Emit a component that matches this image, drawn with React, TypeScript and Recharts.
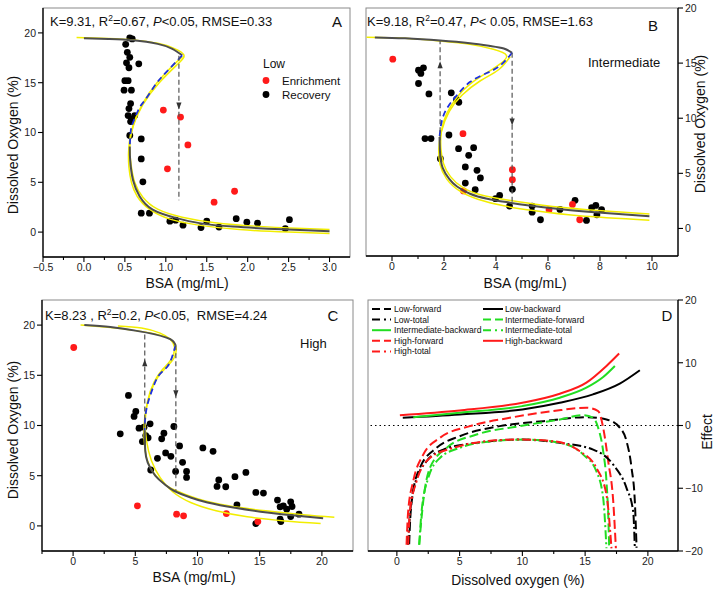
import React from "react";
import { ComposedChart, Line, Scatter, XAxis, YAxis, ReferenceLine } from "recharts";

const FONT = "Arial, 'Liberation Sans', Helvetica, sans-serif";
const W = 720;
const H = 589;

type P = [number, number];
const pts = (a: P[]) => a.map(([x, y]) => ({ x, y }));

// ---------- A: low BSA ----------
const lowRecovery: P[] = [
  [0.56, 19.5], [0.59, 19.4], [0.51, 18.85], [0.53, 18.05], [0.56, 17.55], [0.52, 17.0],
  [0.67, 16.9], [0.55, 16.5], [0.5, 15.2], [0.54, 15.2], [0.49, 14.25], [0.58, 14.25],
  [0.57, 12.9], [0.55, 12.4], [0.54, 11.7], [0.62, 11.7], [0.58, 11.35], [0.57, 11.1],
  [0.56, 9.7], [0.7, 9.35], [0.7, 7.35], [0.72, 5.05], [0.7, 1.9], [0.8, 1.9],
  [1.05, 1.1], [1.12, 1.2], [1.21, 0.7], [1.43, 0.45], [1.5, 1.1], [1.65, 0.5],
  [1.86, 1.35], [1.99, 1.0], [2.12, 0.9], [2.46, 0.35], [2.51, 1.25],
];
const lowEnrichment: P[] = [
  [0.97, 12.25], [1.18, 11.55], [1.27, 8.75], [1.02, 6.35], [1.59, 3.0], [1.84, 4.1],
];
const lowFitUpper: P[] = [
  [0.0, 19.47], [0.3, 19.38], [0.6, 19.25], [0.9, 18.9], [1.08, 18.4], [1.2, 17.75],
];
const lowFitMiddle: P[] = [
  [1.2, 17.75], [1.0, 16.0], [0.88, 14.87], [0.75, 13.3], [0.68, 12.5], [0.6, 11.0],
  [0.57, 10.0], [0.56, 8.6],
];
const lowFitLower: P[] = [
  [0.56, 8.6], [0.565, 7.2], [0.6, 5.2], [0.68, 3.6], [0.84, 2.25], [1.13, 1.4],
  [1.41, 0.9], [1.82, 0.55], [2.42, 0.28], [3.0, 0.08],
];
const lowBandOuter: P[] = [
  [-0.09, 19.55], [0.3, 19.45], [0.6, 19.3], [0.9, 18.95], [1.1, 18.45], [1.22, 17.8],
  [1.15, 16.9], [0.92, 15.0], [0.72, 12.8], [0.6, 10.6], [0.56, 8.6], [0.575, 6.8],
  [0.62, 5.0], [0.72, 3.5], [0.9, 2.3], [1.2, 1.5], [1.6, 0.95], [2.1, 0.6], [2.6, 0.38],
  [3.0, 0.25],
];
const lowBandInner: P[] = [
  [1.2, 17.6], [1.0, 16.0], [0.8, 14.0], [0.65, 11.8], [0.57, 9.8], [0.545, 8.0],
  [0.55, 6.5], [0.58, 5.0], [0.65, 3.6], [0.8, 2.3], [1.05, 1.3], [1.4, 0.7], [1.9, 0.25],
  [2.5, 0.0], [3.0, -0.15],
];
const lowJumpDown: P[] = [[1.16, 17.7], [1.16, 3.2]];
const lowArrows = [{ x: 1.16, y: 12.7, dir: "down" }];

// ---------- B: intermediate BSA ----------
const intRecovery: P[] = [
  [1.02, 14.36], [1.21, 14.57], [1.11, 14.06], [1.02, 13.15], [1.42, 12.2], [2.28, 12.3],
  [2.48, 11.7], [2.57, 11.45], [1.27, 8.15], [1.5, 8.15], [2.19, 8.48], [2.56, 7.24],
  [3.14, 7.33], [2.95, 6.63], [1.86, 6.33], [2.82, 5.58], [3.27, 5.27], [3.4, 4.58],
  [2.82, 4.12], [3.2, 3.52], [3.98, 2.7], [4.14, 3.0], [4.63, 3.55], [4.52, 2.03],
  [5.39, 2.03], [5.39, 1.48], [5.71, 0.79], [6.46, 1.73], [7.04, 2.55], [7.48, 0.73],
  [7.68, 1.88], [7.84, 2.09], [7.88, 1.24], [8.06, 1.7],
];
const intEnrichment: P[] = [
  [0.03, 15.36], [2.73, 8.6], [2.75, 3.4], [4.63, 5.33], [4.63, 4.42], [6.04, 1.7],
  [6.94, 2.18], [7.22, 0.79],
];
const intFitUpper: P[] = [
  [-0.66, 17.33], [0.5, 17.25], [1.85, 17.05], [3.0, 16.8], [3.8, 16.55], [4.3, 16.33],
  [4.62, 15.94],
];
const intFitMiddle: P[] = [
  [4.62, 15.94], [4.17, 14.8], [3.65, 14.1], [3.01, 13.3], [2.5, 12.1], [2.14, 11.0],
  [1.92, 9.8], [1.83, 8.3],
];
const intFitLower: P[] = [
  [1.83, 8.3], [1.85, 6.8], [1.95, 5.5], [2.2, 4.5], [2.5, 3.8], [3.0, 3.15], [3.66, 2.7],
  [4.5, 2.35], [5.2, 2.1], [6.5, 1.75], [7.8, 1.48], [9.9, 1.1],
];
const intBandOuter: P[] = [
  [-0.98, 17.35], [0.5, 17.25], [1.85, 17.0], [3.0, 16.7], [3.9, 16.25], [4.4, 15.7],
  [4.2, 15.0], [3.7, 14.2], [3.0, 13.1], [2.5, 11.9], [2.1, 10.4], [1.9, 8.8], [1.88, 7.3],
  [1.98, 5.9], [2.25, 4.7], [2.7, 3.75], [3.4, 3.05], [4.5, 2.55], [5.8, 2.1], [7.5, 1.7],
  [9.9, 1.3],
];
const intBandInner: P[] = [
  [4.55, 15.6], [4.1, 14.4], [3.4, 13.4], [2.7, 12.1], [2.2, 10.6], [1.9, 8.8], [1.8, 7.2],
  [1.85, 5.8], [2.1, 4.5], [2.6, 3.4], [3.3, 2.65], [4.3, 2.05], [5.5, 1.6], [7.2, 1.15],
  [9.9, 0.75],
];
const intJumpUp: P[] = [[1.85, 8.0], [1.85, 17.05]];
const intJumpDown: P[] = [[4.62, 15.94], [4.62, 2.2]];
const intArrows = [
  { x: 1.85, y: 14.8, dir: "up" },
  { x: 4.62, y: 9.7, dir: "down" },
];

// ---------- C: high BSA ----------
const highRecovery: P[] = [
  [4.45, 13.0], [5.04, 11.4], [4.9, 10.9], [5.3, 9.73], [5.7, 9.83], [6.19, 10.17],
  [3.79, 9.17], [5.84, 9.0], [5.57, 8.4], [6.03, 8.77], [7.3, 9.23], [7.12, 8.67],
  [8.1, 9.9], [8.56, 7.97], [7.44, 7.27], [7.86, 6.93], [6.78, 6.73], [8.8, 6.33],
  [6.24, 5.57], [8.24, 5.43], [9.12, 5.43], [9.12, 4.83], [10.43, 7.77], [11.25, 7.43],
  [11.71, 4.57], [11.57, 3.93], [12.27, 3.9], [13.01, 4.9], [13.89, 5.33], [13.17, 2.1],
  [14.69, 3.33], [15.3, 3.27], [14.69, 0.23], [16.43, 2.57], [16.64, 1.9], [16.9, 2.0],
  [17.17, 1.67], [17.49, 2.4], [17.6, 1.93], [16.64, 0.67], [16.7, 0.43], [17.49, 0.93],
  [18.16, 1.17],
];
const highEnrichment: P[] = [
  [0.05, 17.77], [5.17, 2.0], [8.32, 1.17], [8.88, 1.0], [12.32, 1.23], [14.85, 0.43],
];
const highFitUpper: P[] = [
  [0.9, 20.0], [3.0, 19.8], [5.0, 19.45], [6.5, 19.1], [7.5, 18.75], [8.0, 18.45],
  [8.24, 18.0],
];
const highFitMiddle: P[] = [
  [8.24, 18.0], [8.0, 17.0], [7.6, 15.9], [6.9, 15.0], [6.4, 13.7], [6.0, 12.2],
  [5.8, 10.8], [5.75, 9.5],
];
const highFitLower: P[] = [
  [5.75, 9.5], [5.8, 7.5], [6.0, 6.3], [6.6, 5.0], [7.4, 4.1], [8.1, 3.5], [9.5, 2.8],
  [10.8, 2.33], [13.0, 1.8], [15.6, 1.33], [18.0, 1.0], [20.1, 0.77],
];
const highBandOuter: P[] = [
  [0.6, 20.0], [3.0, 19.75], [5.0, 19.45], [6.5, 19.15], [7.5, 18.8], [8.1, 18.3],
  [8.3, 17.6], [8.1, 16.7], [7.5, 15.8], [6.8, 14.8], [6.2, 13.2], [5.85, 11.5],
  [5.7, 9.8], [5.75, 8.0], [5.95, 6.6], [6.4, 5.4], [7.2, 4.3], [8.3, 3.5], [10.0, 2.7],
  [12.5, 2.0], [15.5, 1.5], [18.5, 1.1], [21.0, 0.85],
];
const highBandInner: P[] = [
  [3.6, 19.9], [5.5, 19.7], [7.0, 19.2], [7.8, 18.6], [8.15, 17.8], [7.9, 16.6],
  [7.2, 15.6], [6.5, 14.3], [6.0, 12.5], [5.8, 10.5], [5.9, 8.5], [6.3, 6.5], [7.0, 4.8],
  [8.0, 3.4], [9.5, 2.3], [11.5, 1.5], [14.0, 0.9], [17.0, 0.5], [19.9, 0.25],
];
const highJumpUp: P[] = [[5.76, 9.0], [5.76, 19.3]];
const highJumpDown: P[] = [[8.26, 18.0], [8.26, 3.5]];
const highArrows = [
  { x: 5.76, y: 16.2, dir: "up" },
  { x: 8.26, y: 13.2, dir: "down" },
];

// ---------- D: effects vs dissolved oxygen ----------
const lowForward: P[] = [
  [0.98, -18.9], [1.04, -15.84], [1.3, -10.5], [1.83, -6.77], [3.16, -3.57], [5.0, -1.71],
  [8.2, -0.1], [11.66, 0.69], [15.1, 1.33], [16.7, 0.96], [17.77, -0.37], [18.3, -2.5],
  [18.7, -6.77], [18.96, -12.1], [19.1, -19.5],
];
const lowTotal: P[] = [
  [0.9, -19.0], [1.04, -14.24], [1.43, -9.44], [2.37, -5.7], [3.7, -3.84], [6.35, -2.77],
  [9.8, -2.24], [13.0, -2.77], [15.64, -3.84], [17.24, -6.24], [18.3, -9.97],
  [18.83, -13.7], [18.96, -19.57],
];
const lowBackward: P[] = [
  [0.47, 1.23], [5.0, 1.76], [10.0, 2.56], [12.98, 3.63], [15.63, 4.96], [17.76, 6.67],
  [19.36, 8.8],
];
const intForward: P[] = [
  [1.78, -19.0], [2.1, -12.1], [2.63, -6.77], [3.96, -3.57], [6.35, -1.44], [9.8, -0.1],
  [13.0, 0.96], [14.85, 1.65], [15.64, 1.23], [16.04, -0.37], [16.44, -4.11],
  [16.7, -8.9], [16.84, -14.24], [16.92, -19.57],
];
const intTotal: P[] = [
  [1.78, -19.0], [1.97, -13.7], [2.5, -8.37], [3.43, -5.17], [5.0, -3.57], [7.67, -2.5],
  [10.33, -2.24], [13.0, -2.77], [14.85, -4.64], [15.9, -7.3], [16.44, -11.57],
  [16.7, -19.57],
];
const intBackward: P[] = [
  [1.3, 1.33], [5.0, 2.03], [10.0, 3.09], [12.98, 4.43], [15.1, 6.03], [16.44, 7.73],
  [17.37, 9.49],
];
const highForward: P[] = [
  [0.77, -19.0], [0.9, -13.7], [1.3, -8.9], [2.1, -4.64], [3.43, -1.97], [5.82, -0.1],
  [9.0, 1.23], [12.45, 2.29], [15.1, 2.83], [16.04, 2.29], [16.44, -0.37], [16.84, -5.7],
  [17.24, -12.1], [17.45, -19.57],
];
const highTotal: P[] = [
  [0.9, -19.0], [1.04, -13.7], [1.57, -8.9], [2.63, -5.17], [4.49, -3.57], [7.14, -2.5],
  [9.8, -2.24], [12.45, -2.5], [14.58, -4.11], [15.9, -6.77], [16.7, -11.04],
  [17.1, -19.57],
];
const highBackward: P[] = [
  [0.24, 1.65], [5.0, 2.4], [10.0, 3.63], [12.98, 5.07], [15.1, 6.83], [16.7, 9.49],
  [17.71, 11.47],
];

// ---------- ticks ----------
const ticksA = [-0.5, -0.25, 0, 0.25, 0.5, 0.75, 1, 1.25, 1.5, 1.75, 2, 2.25, 2.5, 2.75, 3];
const majorA = [-0.5, 0, 0.5, 1, 1.5, 2, 2.5, 3];
const ticksB = [0, 1, 2, 3, 4, 5, 6, 7, 8, 9, 10];
const majorB = [0, 2, 4, 6, 8, 10];
const ticksCD = [-2.5, 0, 2.5, 5, 7.5, 10, 12.5, 15, 17.5, 20];
const majorCD = [0, 5, 10, 15, 20];
const doTicks = [0, 5, 10, 15, 20];
const effectTicks = [-20, -10, 0, 10, 20];

const RED = "#ff1a1a";
const GREEN = "#22dd22";
const YELLOW = "#f2ee00";
const FIT = "#4d4d4d";
const BLUE = "#1c2fe0";
const TICK_COLOR = "#222";

const minus = (s: string) => s.replace("-", "\u2212");
const fmt1 = (v: number) => minus(v.toFixed(1));
const fmt0 = (v: number) => minus(String(Math.round(v)));

const isIn = (arr: number[], v: number) => arr.some((m) => Math.abs(m - v) < 1e-9);

function bottomTick(major: number[], fmt: (v: number) => string) {
  return (p: any) => {
    const v = p.payload.value as number;
    const big = isIn(major, v);
    return (
      <g>
        <line x1={p.x} y1={p.y} x2={p.x} y2={p.y + (big ? 5 : 3)} stroke="#000" strokeWidth={1.1} />
        {big && (
          <text x={p.x} y={p.y + 14} textAnchor="middle" fontSize={10.5} fill={TICK_COLOR} fontFamily={FONT}>
            {fmt(v)}
          </text>
        )}
      </g>
    );
  };
}

function sideTick(side: "left" | "right", fmt: (v: number) => string) {
  return (p: any) => {
    const v = p.payload.value as number;
    const s = side === "left" ? -1 : 1;
    return (
      <g>
        <line x1={p.x} y1={p.y} x2={p.x + s * 5} y2={p.y} stroke="#000" strokeWidth={1.1} />
        <text
          x={p.x + s * 7}
          y={p.y + 3.8}
          textAnchor={side === "left" ? "end" : "start"}
          fontSize={10.5}
          fill={TICK_COLOR}
          fontFamily={FONT}
        >
          {fmt(v)}
        </text>
      </g>
    );
  };
}

const dot = (color: string) => (p: any) => <circle cx={p.cx} cy={p.cy} r={3.4} fill={color} />;

const arrowHead = (p: any) => {
  const up = p.payload.dir === "up";
  const { cx, cy } = p;
  const d = up
    ? `M${cx},${cy - 4} L${cx - 2.6},${cy + 3} L${cx + 2.6},${cy + 3} Z`
    : `M${cx},${cy + 4} L${cx - 2.6},${cy - 3} L${cx + 2.6},${cy - 3} Z`;
  return <path d={d} fill="#333" />;
};

type Box = { left: number; right: number; top: number; bottom: number };

const boxA: Box = { left: 43, right: 350, top: 8, bottom: 257 };
const boxB: Box = { left: 366, right: 678, top: 8, bottom: 256 };
const boxC: Box = { left: 42, right: 353, top: 300, bottom: 551 };
const boxD: Box = { left: 368, right: 678, top: 300, bottom: 551 };

const AXW = 30;

function Panel(props: {
  box: Box;
  ySide: "left" | "right";
  xDomain: [number, number];
  yDomain: [number, number];
  xTicks: number[];
  xMajor: number[];
  xFmt: (v: number) => string;
  yTicks: number[];
  children: React.ReactNode;
}) {
  const { box, ySide } = props;
  const margin = {
    top: box.top,
    bottom: H - box.bottom - AXW,
    left: ySide === "left" ? box.left - AXW : box.left,
    right: ySide === "right" ? W - box.right - AXW : W - box.right,
  };
  return (
    <div style={{ position: "absolute", left: 0, top: 0 }}>
      <ComposedChart width={W} height={H} margin={margin}>
        <XAxis
          type="number"
          dataKey="x"
          domain={props.xDomain}
          allowDataOverflow
          ticks={props.xTicks}
          interval={0}
          tickSize={0}
          tickMargin={0}
          height={AXW}
          tickLine={false}
          axisLine={{ stroke: "#000", strokeWidth: 1.3 }}
          tick={bottomTick(props.xMajor, props.xFmt)}
        />
        <YAxis
          type="number"
          dataKey="y"
          orientation={ySide}
          domain={props.yDomain}
          allowDataOverflow
          ticks={props.yTicks}
          interval={0}
          tickSize={0}
          tickMargin={0}
          width={AXW}
          tickLine={false}
          axisLine={{ stroke: "#000", strokeWidth: 1.3 }}
          tick={sideTick(ySide, fmt0)}
        />
        {props.children}
      </ComposedChart>
    </div>
  );
}

function curve(key: string, data: P[], color: string, width: number, dash?: string, type: any = "natural") {
  return (
    <Line
      key={key}
      data={pts(data)}
      dataKey="y"
      type={type}
      stroke={color}
      strokeWidth={width}
      strokeDasharray={dash}
      dot={false}
      activeDot={false}
      isAnimationActive={false}
      zIndex={450}
    />
  );
}

function fitSeries(
  upper: P[], middle: P[], lower: P[], outer: P[], inner: P[], jumps: P[][],
  arrows: { x: number; y: number; dir: string }[], recovery: P[], enrichment: P[],
) {
  return [
    <Scatter key="rec" data={pts(recovery)} shape={dot("#000")} isAnimationActive={false} zIndex={300} />,
    <Scatter key="enr" data={pts(enrichment)} shape={dot(RED)} isAnimationActive={false} zIndex={300} />,
    curve("outer", outer, YELLOW, 1.5),
    curve("inner", inner, YELLOW, 1.5),
    curve("upper", upper, FIT, 2),
    curve("lower", lower, FIT, 2),
    curve("middle", middle, BLUE, 1.8, "6 4"),
    ...jumps.map((j, i) => curve(`jump${i}`, j, "#555", 1.2, "5 3", "linear")),
    <Scatter key="arrows" data={arrows} shape={arrowHead} isAnimationActive={false} zIndex={700} />,
  ];
}

// "K=…, R²=…, P<…, RMSE=…" line with superscript 2 and italic P
function Stats(props: { x: number; y: number; k: string; r2: string; p: string; rmse: string }) {
  return (
    <text x={props.x} y={props.y} fontSize={13} fontFamily={FONT} fill="#111" style={{ whiteSpace: "pre" }}>
      <tspan>{props.k + "R"}</tspan>
      <tspan dy={-5} fontSize={8.5}>2</tspan>
      <tspan dy={5}>{props.r2}</tspan>
      <tspan fontStyle="italic">P</tspan>
      <tspan>{props.p + props.rmse}</tspan>
    </text>
  );
}

const legendRowsLeft = [
  { name: "Low-forward", color: "#000", dash: "8 4" },
  { name: "Low-total", color: "#000", dash: "8 4 2 4" },
  { name: "Intermediate-backward", color: GREEN, dash: undefined },
  { name: "High-forward", color: RED, dash: "8 4" },
  { name: "High-total", color: RED, dash: "8 4 2 4" },
];
const legendRowsRight = [
  { name: "Low-backward", color: "#000", dash: undefined },
  { name: "Intermediate-forward", color: GREEN, dash: "8 4" },
  { name: "Intermediate-total", color: GREEN, dash: "8 4 2 4" },
  { name: "High-backward", color: RED, dash: undefined },
];

export default function App() {
  const frames = [boxA, boxB, boxC, boxD];
  return (
    <div style={{ position: "absolute", left: 0, top: 0, width: W, height: H, background: "#fff", fontFamily: FONT }}>
      <svg width={W} height={H} style={{ position: "absolute", left: 0, top: 0 }}>
        {frames.map((b, i) => (
          <rect key={i} x={b.left} y={b.top} width={b.right - b.left} height={b.bottom - b.top} fill="none" stroke="#8a8a8a" strokeWidth={1} />
        ))}
      </svg>

      <Panel box={boxA} ySide="left" xDomain={[-0.5, 3.25]} yDomain={[-2.5, 22.5]} xTicks={ticksA} xMajor={majorA} xFmt={fmt1} yTicks={doTicks}>
        {fitSeries(lowFitUpper, lowFitMiddle, lowFitLower, lowBandOuter, lowBandInner, [lowJumpDown], lowArrows, lowRecovery, lowEnrichment)}
      </Panel>

      <Panel box={boxB} ySide="right" xDomain={[-1, 11]} yDomain={[-2.5, 20]} xTicks={ticksB} xMajor={majorB} xFmt={fmt0} yTicks={doTicks}>
        {fitSeries(intFitUpper, intFitMiddle, intFitLower, intBandOuter, intBandInner, [intJumpUp, intJumpDown], intArrows, intRecovery, intEnrichment)}
      </Panel>

      <Panel box={boxC} ySide="left" xDomain={[-2.5, 22.5]} yDomain={[-2.5, 22.5]} xTicks={ticksCD} xMajor={majorCD} xFmt={fmt0} yTicks={doTicks}>
        {fitSeries(highFitUpper, highFitMiddle, highFitLower, highBandOuter, highBandInner, [highJumpUp, highJumpDown], highArrows, highRecovery, highEnrichment)}
      </Panel>

      <Panel box={boxD} ySide="right" xDomain={[-2.3, 22.4]} yDomain={[-20, 20]} xTicks={ticksCD.filter((t) => t >= 0)} xMajor={majorCD} xFmt={fmt0} yTicks={effectTicks}>
        <ReferenceLine y={0} stroke="#000" strokeDasharray="1.5 3" strokeWidth={1} />
        {curve("lb", lowBackward, "#000", 2, undefined, "monotone")}
        {curve("ib", intBackward, GREEN, 2, undefined, "monotone")}
        {curve("hb", highBackward, RED, 2, undefined, "monotone")}
        {curve("lf", lowForward, "#000", 2, "9 4", "monotone")}
        {curve("if", intForward, GREEN, 2, "9 4", "monotone")}
        {curve("hf", highForward, RED, 2, "9 4", "monotone")}
        {curve("lt", lowTotal, "#000", 2, "9 3 2 3", "monotone")}
        {curve("it", intTotal, GREEN, 2, "9 3 2 3", "monotone")}
        {curve("ht", highTotal, RED, 2, "9 3 2 3", "monotone")}
      </Panel>

      <svg width={W} height={H} style={{ position: "absolute", left: 0, top: 0, pointerEvents: "none" }} fontFamily={FONT}>
        <Stats x={50} y={25.5} k="K=9.31, " r2="=0.67, " p="<0.05, " rmse="RMSE=0.33" />
        <Stats x={367} y={25.5} k="K=9.18, " r2="=0.47, " p="< 0.05, " rmse="RMSE=1.63" />
        <Stats x={45} y={320} k="K=8.23 , " r2="=0.2, " p="<0.05,  " rmse="RMSE=4.24" />

        <text x={337} y={26.5} fontSize={15} textAnchor="middle" fill="#111">A</text>
        <text x={653} y={30.5} fontSize={15} textAnchor="middle" fill="#111">B</text>
        <text x={333} y={321} fontSize={15} textAnchor="middle" fill="#111">C</text>
        <text x={667} y={321} fontSize={15} textAnchor="middle" fill="#111">D</text>

        <text x={263} y={67.5} fontSize={12} fill="#111">Low</text>
        <circle cx={266} cy={80.5} r={3.4} fill={RED} />
        <text x={282} y={84.5} fontSize={11.5} fill="#111">Enrichment</text>
        <circle cx={266} cy={94.5} r={3.4} fill="#000" />
        <text x={282} y={98.5} fontSize={11.5} fill="#111">Recovery</text>

        <text x={588} y={66.5} fontSize={13} fill="#111">Intermediate</text>
        <text x={300} y={347.5} fontSize={13} fill="#111">High</text>

        {legendRowsLeft.map((r, i) => (
          <g key={r.name}>
            <line x1={372} x2={391} y1={309 + i * 10.6} y2={309 + i * 10.6} stroke={r.color} strokeWidth={2} strokeDasharray={r.dash} />
            <text x={394} y={312 + i * 10.6} fontSize={8.6} fill="#111">{r.name}</text>
          </g>
        ))}
        {legendRowsRight.map((r, i) => (
          <g key={r.name}>
            <line x1={483} x2={503} y1={309 + i * 10.6} y2={309 + i * 10.6} stroke={r.color} strokeWidth={2} strokeDasharray={r.dash} />
            <text x={505} y={312 + i * 10.6} fontSize={8.6} fill="#111">{r.name}</text>
          </g>
        ))}

        <text x={187} y={288} fontSize={14} textAnchor="middle" fill="#111">BSA (mg/mL)</text>
        <text x={525} y={288} fontSize={14} textAnchor="middle" fill="#111">BSA (mg/mL)</text>
        <text x={194} y={582} fontSize={14} textAnchor="middle" fill="#111">BSA (mg/mL)</text>
        <text x={518} y={585} fontSize={13.8} textAnchor="middle" fill="#111">Dissolved oxygen (%)</text>
        <text transform="translate(18,145) rotate(-90)" fontSize={14} textAnchor="middle" fill="#111">Dissolved Oxygen (%)</text>
        <text transform="translate(18,430) rotate(-90)" fontSize={14} textAnchor="middle" fill="#111">Dissolved Oxygen (%)</text>
        <text transform="translate(705,124) rotate(-90)" fontSize={14} textAnchor="middle" fill="#111">Dissolved Oxygen (%)</text>
        <text transform="translate(712,432) rotate(-90)" fontSize={14} textAnchor="middle" fill="#111">Effect</text>
      </svg>
    </div>
  );
}
